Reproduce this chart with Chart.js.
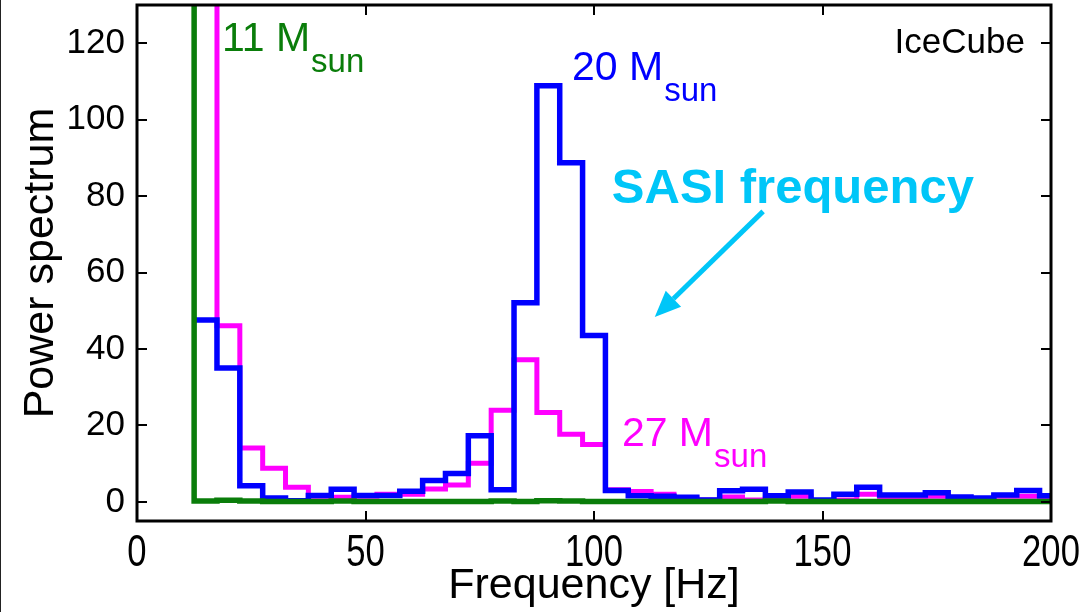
<!DOCTYPE html>
<html>
<head>
<meta charset="utf-8">
<script src="https://cdn.jsdelivr.net/npm/chart.js@4.4.1/dist/chart.umd.min.js"></script>
<style>
  html, body { margin: 0; padding: 0; background: #fff; }
  #wrap { width: 1087px; height: 612px; position: relative; }
</style>
</head>
<body>
<div id="wrap"><canvas id="spectrumChart" width="1087" height="612"></canvas></div>
<script>
// bin left edges [Hz], 5 Hz bins
const binStart = [7.5, 12.5, 17.5, 22.5, 27.5, 32.5, 37.5, 42.5, 47.5, 52.5, 57.5,
  62.5, 67.5, 72.5, 77.5, 82.5, 87.5, 92.5, 97.5, 102.5, 107.5, 112.5, 117.5,
  122.5, 127.5, 132.5, 137.5, 142.5, 147.5, 152.5, 157.5, 162.5, 167.5, 172.5,
  177.5, 182.5, 187.5, 192.5, 197.5];
const binWidth = 5;

const power11 = [400, 0.2, 0.4, 0.2, 0.1, 0.1, 0.1, 0.2, 0.1, 0.1, 0.1,
  0.1, 0.1, 0.1, 0.2, 0.1, 0.3, 0.2, 0.1, 0.1, 0.1, 0.1, 0.1,
  0.1, 0.1, 0.1, 0.2, 0.1, 0.1, 0.1, 0.1, 0.1, 0.1, 0.1,
  0.1, 0.1, 0.1, 0.1, 0.1];
const power20 = [null, 47.6, 35.0, 4.2, 1.0, 0.3, 1.7, 3.3, 1.7, 1.7, 2.8,
  5.6, 7.4, 17.3, 3.2, 52.1, 108.9, 88.7, 43.5, 3.0, 1.6, 1.5, 1.2,
  0.5, 2.9, 3.3, 1.6, 2.6, 0.5, 2.0, 3.8, 1.8, 1.8, 2.4,
  1.3, 1.0, 1.8, 3.0, 1.6];
const power27 = [null, 400, 46.1, 14.1, 8.8, 3.8, 1.5, 1.2, 1.5, 2.0, 2.0,
  3.4, 4.4, 10.1, 24.0, 37.2, 23.4, 17.7, 15.0, 3.2, 2.7, 2.0, 1.0,
  0.5, 1.3, 0.5, 1.0, 1.5, 0.3, 0.5, 2.0, 0.8, 1.0, 1.5,
  0.5, 0.5, 1.5, 1.5, 0.8];

const xTicks = [0, 50, 100, 150, 200];
const yTicks = [0, 20, 40, 60, 80, 100, 120];

const FONT = "'Liberation Sans', Arial, Helvetica, sans-serif";

function toSteps(values) {
  const pts = binStart.map((x, i) => ({ x, y: values[i] }));
  const last = pts[pts.length - 1];
  pts.push({ x: last.x + binWidth, y: last.y });
  return pts;
}

function labelWithSub(ctx, chart, xv, yv, main, sub, color) {
  const xs = chart.scales.x, ys = chart.scales.y;
  const px = xs.getPixelForValue(xv), py = ys.getPixelForValue(yv);
  ctx.fillStyle = color;
  ctx.textBaseline = 'alphabetic';
  ctx.textAlign = 'left';
  ctx.font = '41px ' + FONT;
  ctx.fillText(main, px, py);
  const w = ctx.measureText(main).width;
  ctx.font = '33px ' + FONT;
  ctx.fillText(sub, px + w + 1, py + 21);
}

const framePlugin = {
  id: 'frame',
  afterDatasetsDraw(chart) {
    const { ctx, chartArea: a } = chart;
    const xs = chart.scales.x, ys = chart.scales.y;
    ctx.save();
    // page edge line
    ctx.fillStyle = '#222';
    ctx.fillRect(0, 0, 1, chart.height);

    ctx.strokeStyle = '#000';
    ctx.lineWidth = 2;
    const tl = 10;
    xTicks.forEach(v => {
      const p = Math.round(xs.getPixelForValue(v));
      ctx.beginPath();
      ctx.moveTo(p, a.bottom); ctx.lineTo(p, a.bottom - tl);
      ctx.moveTo(p, a.top); ctx.lineTo(p, a.top + tl);
      ctx.stroke();
    });
    yTicks.forEach(v => {
      const p = Math.round(ys.getPixelForValue(v));
      ctx.beginPath();
      ctx.moveTo(a.left, p); ctx.lineTo(a.left + tl, p);
      ctx.moveTo(a.right, p); ctx.lineTo(a.right - tl, p);
      ctx.stroke();
    });
    ctx.lineWidth = 3;
    ctx.strokeRect(a.left, a.top, a.right - a.left, a.bottom - a.top);

    // x tick labels, narrow like the original export
    ctx.fillStyle = '#000';
    ctx.font = '45px ' + FONT;
    ctx.textAlign = 'center';
    ctx.textBaseline = 'alphabetic';
    xTicks.forEach(v => {
      const p = xs.getPixelForValue(v);
      ctx.save();
      ctx.translate(p, a.bottom + 45);
      ctx.scale(0.77, 1);
      ctx.fillText(String(v), 0, 0);
      ctx.restore();
    });

    // annotations
    labelWithSub(ctx, chart, 18.6, 117.9, '11 M', 'sun', '#0a7d0a');
    labelWithSub(ctx, chart, 95.2, 110.3, '20 M', 'sun', '#0000ff');
    labelWithSub(ctx, chart, 106.1, 14.5, '27 M', 'sun', '#ff00ff');

    ctx.fillStyle = '#000';
    ctx.font = '35px ' + FONT;
    ctx.textAlign = 'right';
    ctx.fillText('IceCube', xs.getPixelForValue(194.3), ys.getPixelForValue(117.4));

    const cyan = '#00c6f8';
    ctx.fillStyle = cyan;
    ctx.font = 'bold 49px ' + FONT;
    ctx.textAlign = 'left';
    ctx.fillText('SASI frequency', xs.getPixelForValue(103.9), ys.getPixelForValue(78.3));

    // arrow
    const x0 = xs.getPixelForValue(137.0), y0 = ys.getPixelForValue(76.0);
    const x1 = xs.getPixelForValue(113.3), y1 = ys.getPixelForValue(48.4);
    const ang = Math.atan2(y1 - y0, x1 - x0);
    const head = 26, hw = 11;
    const bx = x1 - head * Math.cos(ang), by = y1 - head * Math.sin(ang);
    ctx.strokeStyle = cyan;
    ctx.lineWidth = 5;
    ctx.beginPath();
    ctx.moveTo(x0, y0); ctx.lineTo(bx, by);
    ctx.stroke();
    ctx.beginPath();
    ctx.moveTo(x1, y1);
    ctx.lineTo(bx + hw * Math.sin(ang), by - hw * Math.cos(ang));
    ctx.lineTo(bx - hw * Math.sin(ang), by + hw * Math.cos(ang));
    ctx.closePath();
    ctx.fill();
    ctx.restore();
  }
};

const common = {
  type: 'line',
  stepped: true,
  pointRadius: 0,
  borderWidth: 5.5,
  borderJoinStyle: 'miter',
  borderCapStyle: 'butt',
  fill: false,
  spanGaps: false,
  clip: 0
};

new Chart(document.getElementById('spectrumChart'), {
  type: 'line',
  data: {
    datasets: [
      { ...common, label: '11 Msun', data: toSteps(power11), borderColor: '#0a7d0a', order: 0 },
      { ...common, label: '20 Msun', data: toSteps(power20), borderColor: '#0000ff', order: 1 },
      { ...common, label: '27 Msun', data: toSteps(power27), borderColor: '#ff00ff', borderWidth: 5, order: 2 }
    ]
  },
  options: {
    responsive: false,
    animation: false,
    events: [],
    layout: { padding: { top: 5, right: 36, left: 0, bottom: 0 } },
    plugins: { legend: { display: false }, tooltip: { enabled: false } },
    scales: {
      x: {
        type: 'linear',
        min: 0,
        max: 200,
        afterBuildTicks: s => { s.ticks = xTicks.map(v => ({ value: v })); },
        afterFit: s => { s.height = 91; s.paddingLeft = 0; s.paddingRight = 0; },
        grid: { display: false, drawTicks: false },
        border: { display: false },
        ticks: { display: false },
        title: {
          display: true,
          text: 'Frequency [Hz]',
          color: '#000',
          padding: { top: 0, bottom: 0 },
          font: { family: FONT, size: 43 }
        }
      },
      y: {
        type: 'linear',
        min: -5,
        max: 130,
        afterBuildTicks: s => { s.ticks = yTicks.map(v => ({ value: v })); },
        afterFit: s => { s.width = 137; s.paddingTop = 0; s.paddingBottom = 0; },
        grid: { display: false, drawTicks: false },
        border: { display: false },
        ticks: {
          color: '#000',
          padding: 12,
          font: { family: FONT, size: 35 }
        },
        title: {
          display: true,
          text: 'Power spectrum',
          color: '#000',
          padding: { top: 15, bottom: 0 },
          font: { family: FONT, size: 43 }
        }
      }
    }
  },
  plugins: [framePlugin]
});
</script>
</body>
</html>
